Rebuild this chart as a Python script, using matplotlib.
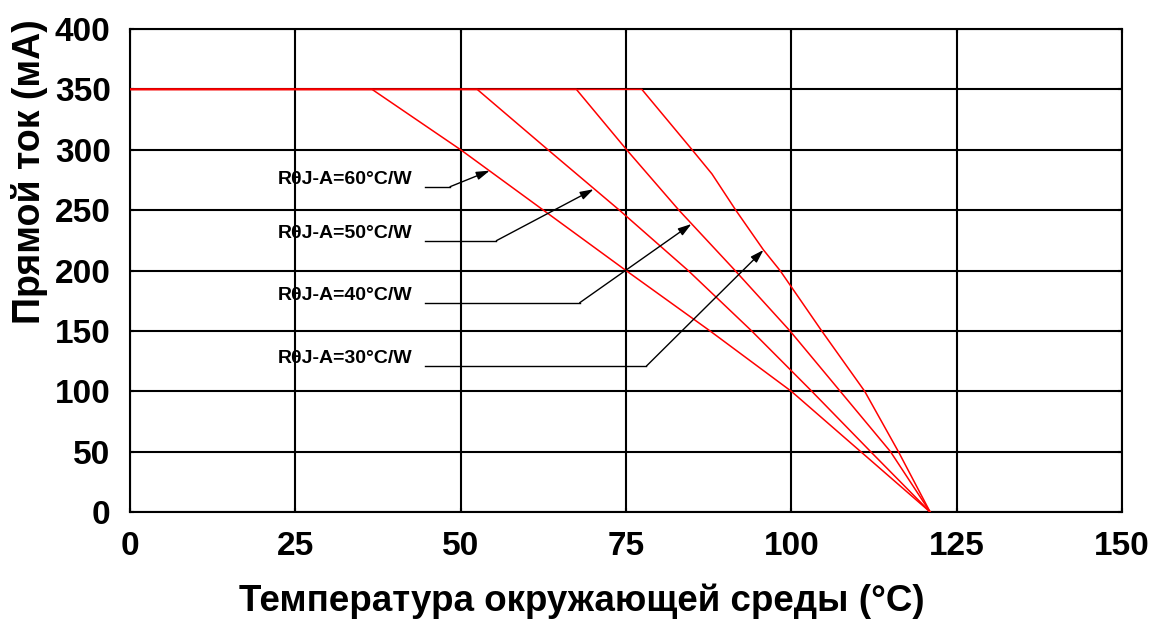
import matplotlib
matplotlib.use("Agg")
import matplotlib.pyplot as plt

plt.rcParams['font.family'] = ['Liberation Sans', 'DejaVu Sans']

# derating curves (temperature, current)
t_60 = [0, 36.6, 50, 75, 87.7, 100, 110.5, 121]
i_60 = [350, 350, 300, 200, 150, 100, 50, 0]
t_50 = [0, 52.5, 63.2, 74, 84.4, 94, 103.1, 112, 121]
i_50 = [350, 350, 300, 250, 200, 150, 100, 50, 0]
t_40 = [0, 67.5, 75.1, 83, 91.5, 99.8, 107.4, 115, 121]
i_40 = [350, 350, 300, 250, 200, 150, 100, 50, 0]
t_30 = [0, 77.4, 85, 88, 91.6, 95.8, 98.3, 104.6, 111.1, 116.2, 121]
i_30 = [350, 350, 300, 280, 250, 217, 200, 150, 100, 50, 0]

labels = ["RθJ-A=60°C/W", "RθJ-A=50°C/W", "RθJ-A=40°C/W", "RθJ-A=30°C/W"]
label_pos = [(22.4, 275), (22.4, 231), (22.4, 179), (22.4, 127.5)]
# leader line: start, bend, arrow tip
leaders = [
    [(44.6, 269.4), (48.4, 269.4), (54.4, 282.7)],
    [(44.6, 224.7), (55.4, 224.7), (70.1, 267.3)],
    [(44.6, 173.3), (68.0, 173.3), (84.9, 238.5)],
    [(44.6, 120.9), (78.1, 120.9), (95.8, 217.0)],
]

x_ticks = [0, 25, 50, 75, 100, 125, 150]
y_ticks = [0, 50, 100, 150, 200, 250, 300, 350, 400]

fig = plt.figure(figsize=(11.56, 6.21), dpi=100)
ax = fig.add_axes([0.1125, 0.1755, 0.858, 0.7778])

ax.set_xlim(0, 150)
ax.set_ylim(0, 400)
ax.set_xticks(x_ticks)
ax.set_yticks(y_ticks)
ax.grid(True, color='black', linewidth=1.5)
ax.set_axisbelow(True)
for s in ax.spines.values():
    s.set_linewidth(1.5)

for t, i in [(t_60, i_60), (t_50, i_50), (t_40, i_40), (t_30, i_30)]:
    ax.plot(t, i, color='red', linewidth=1.1, zorder=3)

for lab, pos, pts in zip(labels, label_pos, leaders):
    ax.text(pos[0], pos[1], lab, fontsize=14, fontweight='bold', va='center', ha='left')
    ax.plot([pts[0][0], pts[1][0]], [pts[0][1], pts[1][1]], color='black', linewidth=1.0, zorder=4)
    ax.annotate('', xy=pts[2], xytext=pts[1],
                arrowprops=dict(arrowstyle='-|>,head_length=0.8,head_width=0.25',
                                color='black', linewidth=1.0, shrinkA=0, shrinkB=0),
                zorder=4)

ax.tick_params(direction='in', length=3, width=1.5, top=True, right=True,
               labelsize=24, pad=14)
for lab in ax.get_xticklabels() + ax.get_yticklabels():
    lab.set_fontweight('bold')

ax.set_xlabel("Температура окружающей среды (°C)", fontsize=26.5, fontweight='bold')
ax.set_ylabel("Прямой ток (мА)", fontsize=27, fontweight='bold')
ax.xaxis.set_label_coords(0.455, -0.148)
ax.yaxis.set_label_coords(-0.083, 0.704)

fig.savefig("out.png", dpi=100)
